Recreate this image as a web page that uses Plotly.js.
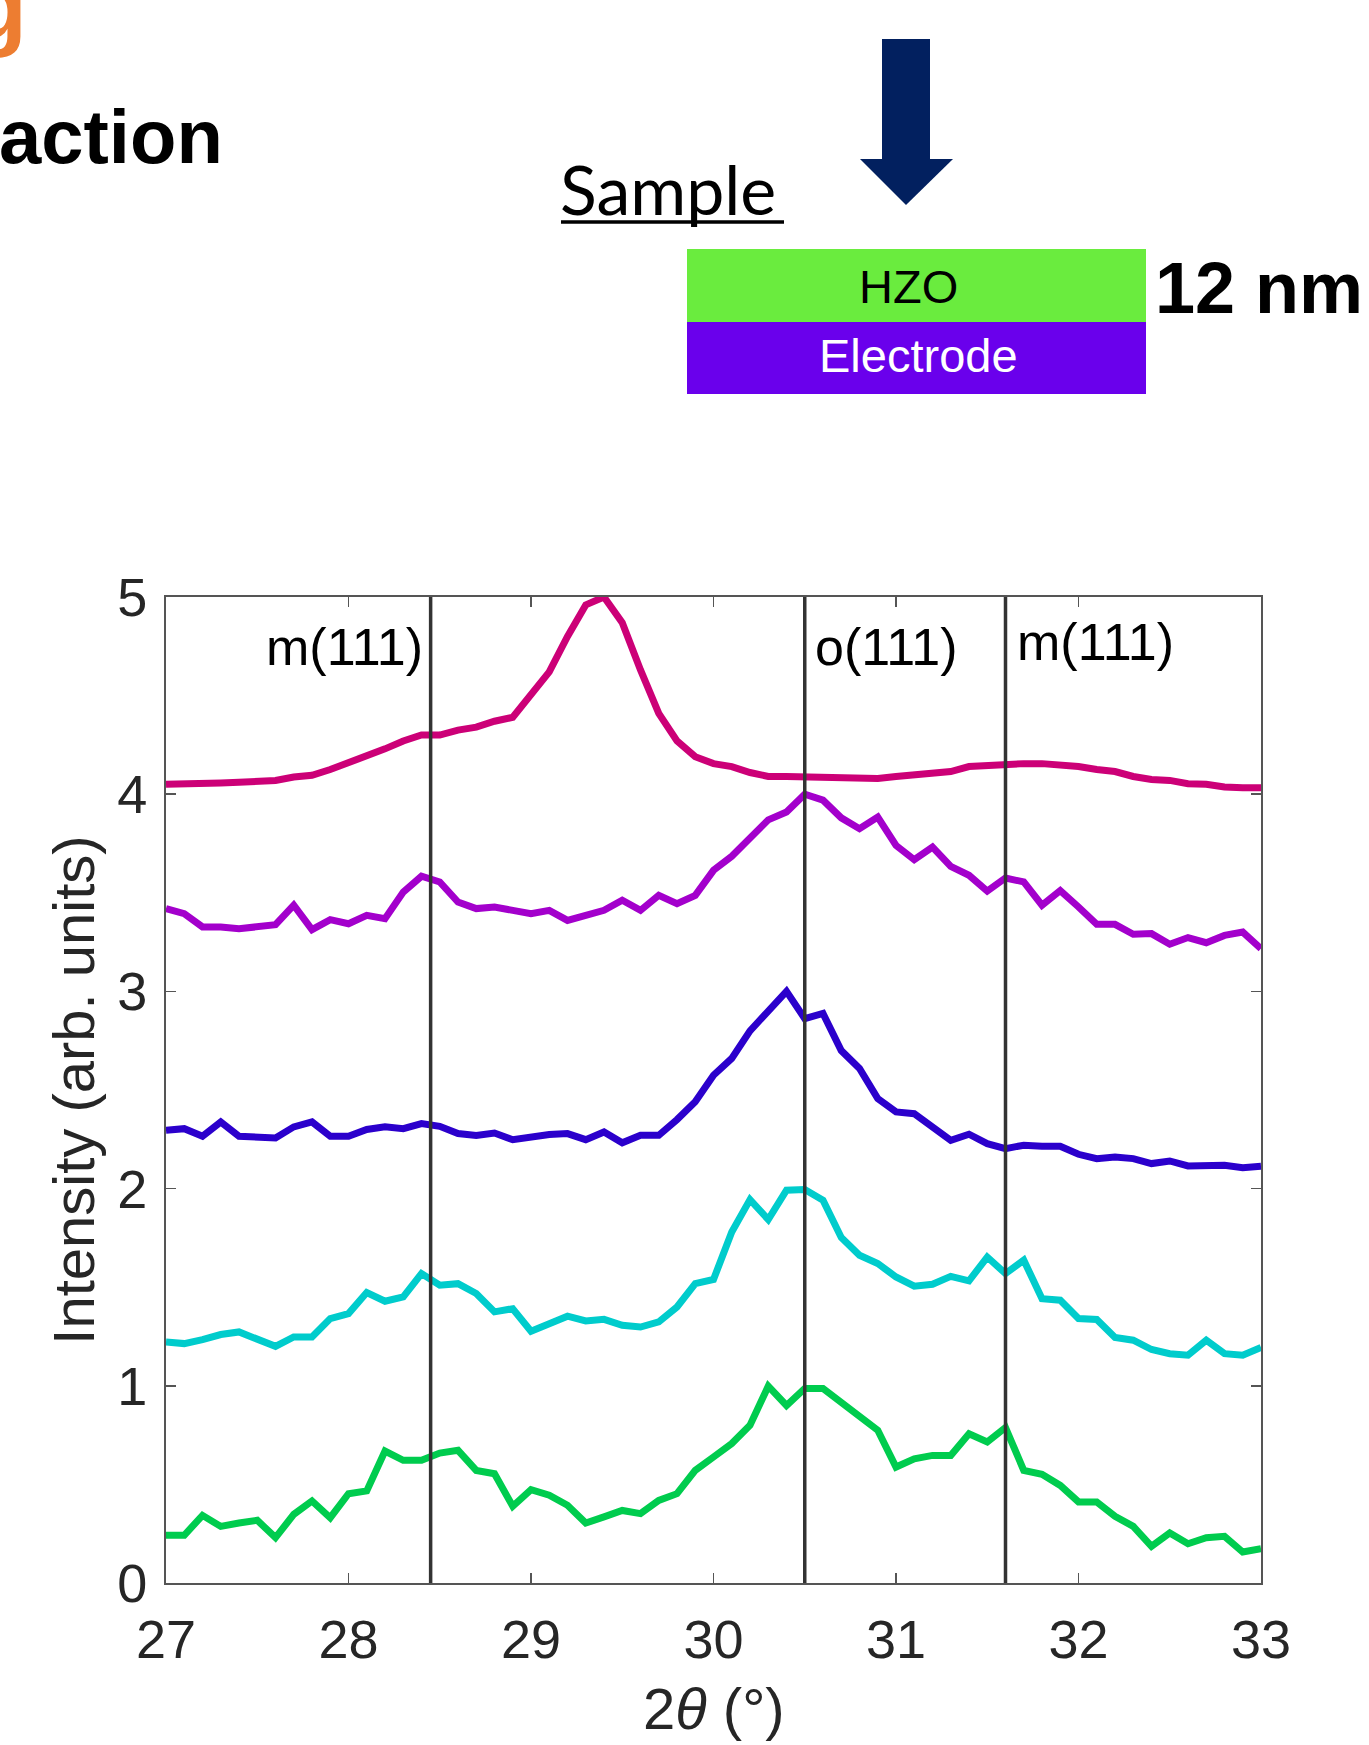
<!DOCTYPE html>
<html>
<head>
<meta charset="utf-8">
<script src="https://cdn.plot.ly/plotly-3.0.1.min.js"></script>
<style>html,body{margin:0;padding:0;background:#fff;}</style>
</head>
<body>
<div id="chart" style="width:1369px;height:1745px;"></div>
<script>
// ---- data ----
const twoTheta = [27.0,27.1,27.2,27.3,27.4,27.5,27.6,27.7,27.8,27.9,
  28.0,28.1,28.2,28.3,28.4,28.5,28.6,28.7,28.8,28.9,
  29.0,29.1,29.2,29.3,29.4,29.5,29.6,29.7,29.8,29.9,
  30.0,30.1,30.2,30.3,30.4,30.5,30.6,30.7,30.8,30.9,
  31.0,31.1,31.2,31.3,31.4,31.5,31.6,31.7,31.8,31.9,
  32.0,32.1,32.2,32.3,32.4,32.5,32.6,32.7,32.8,32.9,33.0];

const seriesMagenta = [4.05,4.05,4.053,4.057,4.06,4.063,4.07,4.087,4.096,4.125,
  4.16,4.19,4.23,4.27,4.30,4.30,4.325,4.34,4.37,4.39,
  4.50,4.62,4.80,4.96,5.0,4.87,4.63,4.41,4.27,4.19,
  4.155,4.14,4.11,4.09,4.09,4.087,4.084,4.082,4.08,4.08,
  4.09,4.096,4.107,4.115,4.14,4.145,4.155,4.155,4.155,4.15,
  4.14,4.125,4.115,4.09,4.075,4.07,4.053,4.05,4.037,4.033,4.033];

const seriesPurple = [3.42,3.394,3.327,3.327,3.318,3.327,3.338,3.437,3.313,3.364,
  3.343,3.386,3.369,3.504,3.584,3.555,3.453,3.42,3.428,3.411,
  3.394,3.411,3.36,3.386,3.411,3.462,3.411,3.487,3.445,3.487,
  3.614,3.685,3.775,3.87,3.91,4.0,3.97,3.88,3.825,3.884,
  3.74,3.668,3.732,3.634,3.589,3.509,3.575,3.555,3.437,3.511,
  3.428,3.34,3.34,3.29,3.293,3.239,3.273,3.247,3.284,3.301,3.217];

const seriesBlue = [2.296,2.304,2.265,2.338,2.265,2.257,2.257,2.313,2.338,2.265,
  2.265,2.30,2.313,2.304,2.33,2.316,2.279,2.27,2.282,2.248,
  2.265,2.274,2.279,2.248,2.287,2.232,2.27,2.27,2.35,2.44,
  2.575,2.66,2.80,2.904,3.0,2.862,2.888,2.70,2.609,2.456,
  2.389,2.38,2.313,2.245,2.276,2.228,2.203,2.22,2.215,2.215,
  2.174,2.152,2.16,2.152,2.127,2.14,2.115,2.115,2.118,2.106,2.113];

const seriesCyan = [1.222,1.214,1.234,1.26,1.273,1.239,1.20,1.248,1.248,1.341,
  1.366,1.473,1.429,1.451,1.569,1.51,1.518,1.468,1.375,1.391,
  1.277,1.315,1.353,1.329,1.337,1.307,1.298,1.324,1.40,1.518,
  1.539,1.78,1.944,1.843,1.992,1.995,1.941,1.752,1.662,1.62,
  1.552,1.505,1.515,1.555,1.532,1.653,1.569,1.637,1.442,1.434,
  1.341,1.336,1.245,1.231,1.184,1.163,1.155,1.231,1.163,1.155,1.194];

const seriesGreen = [0.242,0.242,0.343,0.287,0.304,0.318,0.23,0.348,0.416,0.331,
  0.453,0.467,0.669,0.622,0.622,0.659,0.673,0.571,0.554,0.389,
  0.473,0.445,0.394,0.304,0.335,0.368,0.352,0.419,0.453,0.571,
  0.639,0.707,0.80,0.998,0.90,0.986,0.986,0.918,0.842,0.775,
  0.588,0.63,0.647,0.647,0.757,0.715,0.788,0.571,0.551,0.495,
  0.411,0.411,0.338,0.287,0.186,0.254,0.199,0.23,0.237,0.157,0.174];

const refLines = [28.45, 30.5, 31.6];
const refLabels = ['m(111)', 'o(111)', 'm(111)'];
const xTicks = [27, 28, 29, 30, 31, 32, 33];
const yTicks = [0, 1, 2, 3, 4, 5];
const xTitle = '2<i>θ</i> (°)';
const yTitle = 'Intensity (arb. units)';

// ---- layout helpers (pixel -> paper) ----
const W = 1369, H = 1745;
const M = {l: 166, r: 108, t: 597, b: 162};
const PW = W - M.l - M.r, PH = H - M.t - M.b;
const px = v => (v - M.l) / PW;
const py = v => (H - M.b - v) / PH;

const FONT = 'Liberation Sans, Arial, Helvetica, sans-serif';
const colors = ['#CC0077', '#A300CC', '#2B00CC', '#00CCCC', '#00CC4E'];
const allSeries = [seriesMagenta, seriesPurple, seriesBlue, seriesCyan, seriesGreen];

const traces = allSeries.map((s, i) => ({
  x: twoTheta, y: s, type: 'scatter', mode: 'lines',
  line: {color: colors[i], width: 7},
  hoverinfo: 'skip', showlegend: false
}));

const shapes = [];
refLines.forEach(v => shapes.push({
  type: 'line', xref: 'x', yref: 'paper', x0: v, x1: v, y0: 0, y1: 1,
  line: {color: '#333333', width: 3.5}, layer: 'above'
}));
// arrow
shapes.push({type: 'rect', xref: 'paper', yref: 'paper',
  x0: px(882), x1: px(930), y0: py(162), y1: py(39),
  fillcolor: '#02205F', line: {width: 0}});
shapes.push({type: 'path', xref: 'paper', yref: 'paper',
  path: `M ${px(860)} ${py(159)} L ${px(953)} ${py(159)} L ${px(906)} ${py(205)} Z`,
  fillcolor: '#02205F', line: {width: 0}});
// layers
shapes.push({type: 'rect', xref: 'paper', yref: 'paper',
  x0: px(687), x1: px(1146), y0: py(322), y1: py(249),
  fillcolor: '#6AEC3E', line: {width: 0}});
shapes.push({type: 'rect', xref: 'paper', yref: 'paper',
  x0: px(687), x1: px(1146), y0: py(394), y1: py(322),
  fillcolor: '#6A00EC', line: {width: 0}});
// underline of Sample
shapes.push({type: 'line', xref: 'paper', yref: 'paper',
  x0: px(561), x1: px(784), y0: py(222), y1: py(222),
  line: {color: '#000', width: 3.5}});

const annotations = [];
annotations.push({xref: 'x', yref: 'y', x: refLines[0], y: 4.745, xanchor: 'right', yanchor: 'middle',
  xshift: -6, text: refLabels[0], showarrow: false, font: {family: FONT, size: 52, color: '#000'}});
annotations.push({xref: 'x', yref: 'y', x: refLines[1], y: 4.745, xanchor: 'left', yanchor: 'middle',
  xshift: 8, text: refLabels[1], showarrow: false, font: {family: FONT, size: 52, color: '#000'}});
annotations.push({xref: 'x', yref: 'y', x: refLines[2], y: 4.77, xanchor: 'left', yanchor: 'middle',
  xshift: 9, text: refLabels[2], showarrow: false, font: {family: FONT, size: 52, color: '#000'}});

// x-axis title placed as annotation (sits inside the bottom margin)
annotations.push({xref: 'paper', yref: 'paper', x: 0.5, y: py(1708), xanchor: 'center', yanchor: 'middle',
  text: xTitle, showarrow: false, font: {family: FONT, size: 58, color: '#262626'}});

// top texts
annotations.push({xref: 'paper', yref: 'paper', x: px(-3), y: py(136), xanchor: 'left', yanchor: 'middle',
  text: '<b>action</b>', showarrow: false, font: {family: FONT, size: 76, color: '#000'}});
annotations.push({xref: 'paper', yref: 'paper', x: px(-33), y: py(5), xanchor: 'left', yanchor: 'middle',
  text: '<b>g</b>', showarrow: false, font: {family: FONT, size: 95, color: '#ED7D31'}});
annotations.push({xref: 'paper', yref: 'paper', x: px(558), y: py(188), xanchor: 'left', yanchor: 'middle',
  text: 'Sample', showarrow: false, font: {family: 'Lato, Open Sans, sans-serif', size: 68, color: '#000'}});
annotations.push({xref: 'paper', yref: 'paper', x: px(908), y: py(286), xanchor: 'center', yanchor: 'middle',
  text: 'HZO', showarrow: false, font: {family: FONT, size: 47, color: '#000'}});
annotations.push({xref: 'paper', yref: 'paper', x: px(918), y: py(355), xanchor: 'center', yanchor: 'middle',
  text: 'Electrode', showarrow: false, font: {family: FONT, size: 47, color: '#fff'}});
annotations.push({xref: 'paper', yref: 'paper', x: px(1153), y: py(288), xanchor: 'left', yanchor: 'middle',
  text: '<b>12 nm</b>', showarrow: false, font: {family: FONT, size: 72, color: '#000'}});

const axisCommon = {
  showgrid: false, zeroline: false, showline: true, mirror: 'ticks',
  linecolor: '#555', linewidth: 2, ticks: 'inside', ticklen: 10, tickwidth: 1.5, tickcolor: '#555',
  tickfont: {family: FONT, size: 54, color: '#262626'}
};

const layout = {
  width: W, height: H,
  margin: M,
  paper_bgcolor: '#fff', plot_bgcolor: '#fff',
  showlegend: false,
  xaxis: Object.assign({}, axisCommon, {
    range: [27, 33], tickvals: xTicks, ticktext: xTicks.map(String),
    ticklabelstandoff: 8
  }),
  yaxis: Object.assign({}, axisCommon, {
    range: [0, 5], tickvals: yTicks, ticktext: yTicks.map(String),
    ticklabelstandoff: 6,
    title: {text: yTitle, font: {family: FONT, size: 58, color: '#262626'}, standoff: 4}
  }),
  shapes: shapes,
  annotations: annotations
};

Plotly.newPlot('chart', traces, layout, {displayModeBar: false, staticPlot: true});
</script>
</body>
</html>
